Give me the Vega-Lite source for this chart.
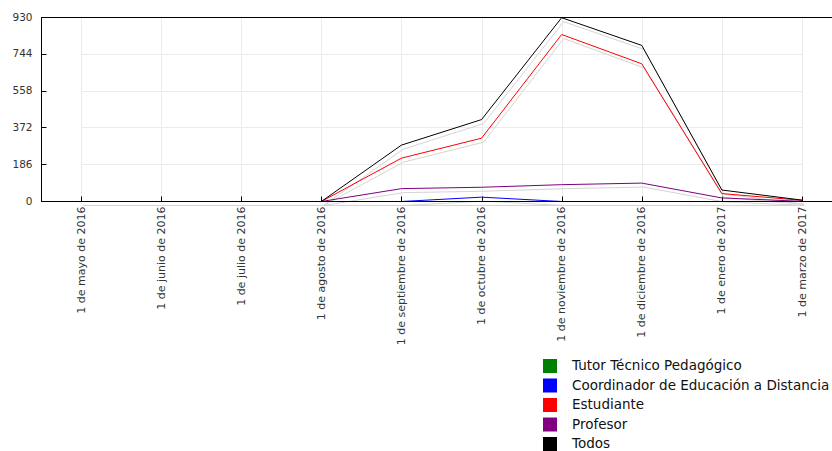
{
  "$schema": "https://vega.github.io/schema/vega-lite/v6.json",
  "width": 791,
  "height": 184,
  "autosize": "none",
  "padding": {"left": 41, "top": 17, "right": 0, "bottom": 250},
  "background": "white",
  "config": {
    "font": "DejaVu Sans",
    "view": {"stroke": null}
  },
  "data": {
    "values": [
      {"mes": "1 de mayo de 2016", "serie": "Tutor Técnico Pedagógico", "valor": 0},
      {"mes": "1 de junio de 2016", "serie": "Tutor Técnico Pedagógico", "valor": 0},
      {"mes": "1 de julio de 2016", "serie": "Tutor Técnico Pedagógico", "valor": 0},
      {"mes": "1 de agosto de 2016", "serie": "Tutor Técnico Pedagógico", "valor": 0},
      {"mes": "1 de septiembre de 2016", "serie": "Tutor Técnico Pedagógico", "valor": 0},
      {"mes": "1 de octubre de 2016", "serie": "Tutor Técnico Pedagógico", "valor": 0},
      {"mes": "1 de noviembre de 2016", "serie": "Tutor Técnico Pedagógico", "valor": 0},
      {"mes": "1 de diciembre de 2016", "serie": "Tutor Técnico Pedagógico", "valor": 0},
      {"mes": "1 de enero de 2017", "serie": "Tutor Técnico Pedagógico", "valor": 0},
      {"mes": "1 de marzo de 2017", "serie": "Tutor Técnico Pedagógico", "valor": 0},
      {"mes": "1 de mayo de 2016", "serie": "Coordinador de Educación a Distancia", "valor": 0},
      {"mes": "1 de junio de 2016", "serie": "Coordinador de Educación a Distancia", "valor": 0},
      {"mes": "1 de julio de 2016", "serie": "Coordinador de Educación a Distancia", "valor": 0},
      {"mes": "1 de agosto de 2016", "serie": "Coordinador de Educación a Distancia", "valor": 0},
      {"mes": "1 de septiembre de 2016", "serie": "Coordinador de Educación a Distancia", "valor": 0},
      {"mes": "1 de octubre de 2016", "serie": "Coordinador de Educación a Distancia", "valor": 22},
      {"mes": "1 de noviembre de 2016", "serie": "Coordinador de Educación a Distancia", "valor": 0},
      {"mes": "1 de diciembre de 2016", "serie": "Coordinador de Educación a Distancia", "valor": 0},
      {"mes": "1 de enero de 2017", "serie": "Coordinador de Educación a Distancia", "valor": 0},
      {"mes": "1 de marzo de 2017", "serie": "Coordinador de Educación a Distancia", "valor": 0},
      {"mes": "1 de mayo de 2016", "serie": "Estudiante", "valor": 0},
      {"mes": "1 de junio de 2016", "serie": "Estudiante", "valor": 0},
      {"mes": "1 de julio de 2016", "serie": "Estudiante", "valor": 0},
      {"mes": "1 de agosto de 2016", "serie": "Estudiante", "valor": 0},
      {"mes": "1 de septiembre de 2016", "serie": "Estudiante", "valor": 219},
      {"mes": "1 de octubre de 2016", "serie": "Estudiante", "valor": 320},
      {"mes": "1 de noviembre de 2016", "serie": "Estudiante", "valor": 844},
      {"mes": "1 de diciembre de 2016", "serie": "Estudiante", "valor": 696},
      {"mes": "1 de enero de 2017", "serie": "Estudiante", "valor": 40},
      {"mes": "1 de marzo de 2017", "serie": "Estudiante", "valor": 6},
      {"mes": "1 de mayo de 2016", "serie": "Profesor", "valor": 0},
      {"mes": "1 de junio de 2016", "serie": "Profesor", "valor": 0},
      {"mes": "1 de julio de 2016", "serie": "Profesor", "valor": 0},
      {"mes": "1 de agosto de 2016", "serie": "Profesor", "valor": 0},
      {"mes": "1 de septiembre de 2016", "serie": "Profesor", "valor": 65},
      {"mes": "1 de octubre de 2016", "serie": "Profesor", "valor": 72},
      {"mes": "1 de noviembre de 2016", "serie": "Profesor", "valor": 85},
      {"mes": "1 de diciembre de 2016", "serie": "Profesor", "valor": 93},
      {"mes": "1 de enero de 2017", "serie": "Profesor", "valor": 18},
      {"mes": "1 de marzo de 2017", "serie": "Profesor", "valor": 1},
      {"mes": "1 de mayo de 2016", "serie": "Todos", "valor": 0},
      {"mes": "1 de junio de 2016", "serie": "Todos", "valor": 0},
      {"mes": "1 de julio de 2016", "serie": "Todos", "valor": 0},
      {"mes": "1 de agosto de 2016", "serie": "Todos", "valor": 0},
      {"mes": "1 de septiembre de 2016", "serie": "Todos", "valor": 285},
      {"mes": "1 de octubre de 2016", "serie": "Todos", "valor": 414},
      {"mes": "1 de noviembre de 2016", "serie": "Todos", "valor": 929},
      {"mes": "1 de diciembre de 2016", "serie": "Todos", "valor": 789},
      {"mes": "1 de enero de 2017", "serie": "Todos", "valor": 58},
      {"mes": "1 de marzo de 2017", "serie": "Todos", "valor": 7}
    ]
  },
  "encoding": {
    "x": {
      "field": "mes",
      "type": "ordinal",
      "sort": null,
      "title": null,
      "scale": {"type": "point", "range": [40, 761], "padding": 0},
      "axis": {
        "labelAngle": -90,
        "labelFontSize": 11,
        "labelColor": "#333333",
        "labelPadding": 10,
        "tickSize": -5,
        "tickColor": "black",
        "domainColor": "black",
        "grid": true,
        "gridColor": "#ebebeb",
        "labelLimit": 300
      }
    },
    "y": {
      "field": "valor",
      "type": "quantitative",
      "title": null,
      "scale": {"domain": [0, 930], "nice": false},
      "axis": {
        "values": [0, 186, 372, 558, 744, 930],
        "labelFontSize": 10.5,
        "labelColor": "#333333",
        "labelPadding": 14,
        "tickSize": -5,
        "tickColor": "black",
        "domainColor": "black",
        "grid": true,
        "gridColor": "#ebebeb"
      }
    }
  },
  "layer": [
    {
      "mark": {"type": "rule", "color": "black", "strokeWidth": 1, "yOffset": 0.5},
      "encoding": {"y": {"datum": 930}, "x": null}
    },
    {
      "mark": {"type": "line", "color": "#d4d4d4", "strokeWidth": 1, "xOffset": 2, "yOffset": 4.5},
      "encoding": {"detail": {"field": "serie"}}
    },
    {
      "mark": {"type": "line", "strokeWidth": 1, "yOffset": 0.5},
      "encoding": {
        "color": {
          "field": "serie",
          "type": "nominal",
          "sort": null,
          "scale": {
            "domain": ["Tutor Técnico Pedagógico", "Coordinador de Educación a Distancia", "Estudiante", "Profesor", "Todos"],
            "range": ["#008000", "#0000ff", "#ff0000", "#800080", "#000000"]
          },
          "legend": {
            "title": null,
            "orient": "none",
            "legendX": 502,
            "legendY": 342,
            "symbolType": "square",
            "symbolSize": 196,
            "symbolStrokeWidth": 0,
            "labelFontSize": 13.5,
            "labelColor": "#111111",
            "labelOffset": 15,
            "labelLimit": 400,
            "rowPadding": 5.5,
            "encode": {
              "symbols": {"update": {"fill": {"scale": "color", "field": "value"}, "fillOpacity": {"value": 1}}}
            }
          }
        }
      }
    },
    {
      "mark": {"type": "rule", "color": "black", "strokeWidth": 1, "yOffset": 0.5},
      "encoding": {"y": {"datum": 0}, "x": null}
    }
  ]
}
